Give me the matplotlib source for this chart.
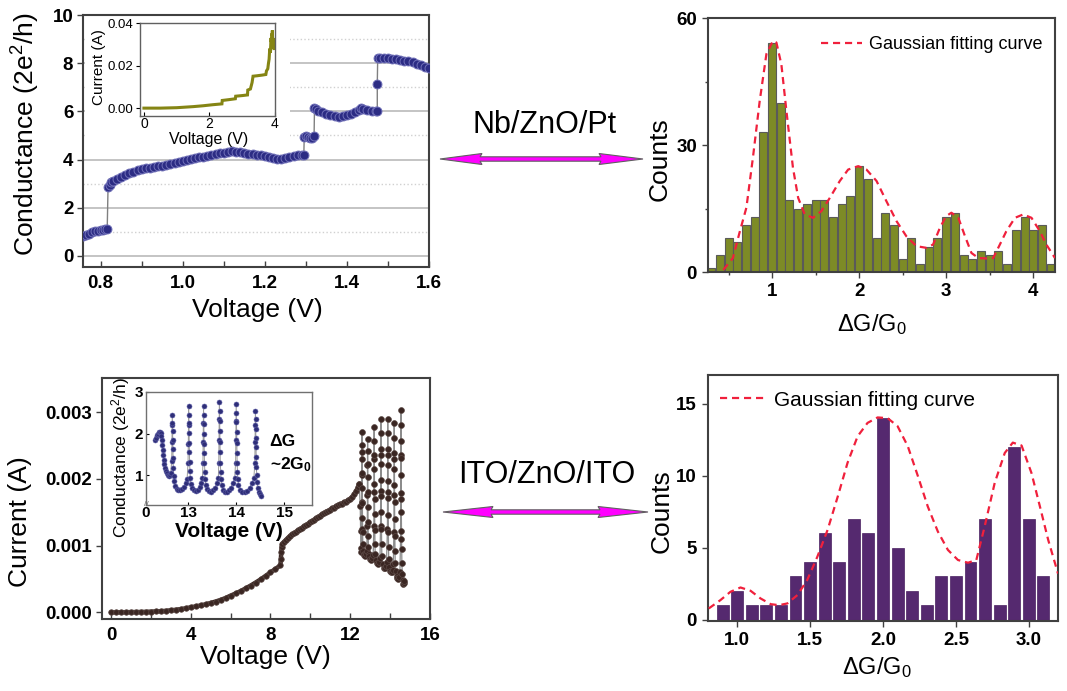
import matplotlib
matplotlib.use('Agg')
import matplotlib.pyplot as plt
from matplotlib.patches import Polygon, Rectangle
from matplotlib.ticker import FixedLocator

plt.rcParams['font.family'] = ['Liberation Sans', 'DejaVu Sans']
plt.rcParams['mathtext.fontset'] = 'custom'
plt.rcParams['mathtext.rm'] = 'Liberation Sans'
plt.rcParams['mathtext.it'] = 'Liberation Sans:italic'
plt.rcParams['mathtext.bf'] = 'Liberation Sans:bold'
plt.rcParams['mathtext.default'] = 'regular'

# ---------------- data ----------------
# top-left: conductance (2e^2/h) vs voltage (V), Nb/ZnO/Pt
tl_curve = [
    (0.758, 0.84), (0.765, 0.88), (0.772, 0.92), (0.780, 0.98), (0.787, 1.02), (0.794, 1.04),
    (0.800, 1.06), (0.806, 1.08), (0.811, 1.10), (0.816, 1.12),
    (0.818, 2.85), (0.822, 2.95), (0.826, 3.05), (0.830, 3.12), (0.840, 3.20), (0.850, 3.28),
    (0.860, 3.36), (0.870, 3.43), (0.880, 3.50), (0.890, 3.55), (0.900, 3.59), (0.910, 3.63),
    (0.920, 3.66), (0.930, 3.69), (0.940, 3.72), (0.950, 3.75), (0.960, 3.78), (0.970, 3.81),
    (0.980, 3.84), (0.990, 3.88), (1.000, 3.92), (1.010, 3.97), (1.020, 4.02), (1.030, 4.06),
    (1.040, 4.10), (1.050, 4.12), (1.060, 4.14), (1.070, 4.18), (1.080, 4.22), (1.090, 4.26),
    (1.100, 4.29), (1.110, 4.33), (1.120, 4.36), (1.130, 4.33), (1.140, 4.30), (1.150, 4.27),
    (1.160, 4.25), (1.170, 4.23), (1.180, 4.20), (1.190, 4.17), (1.200, 4.15), (1.210, 4.12),
    (1.220, 4.08), (1.230, 4.04), (1.240, 4.01), (1.250, 4.06), (1.260, 4.10), (1.270, 4.14),
    (1.280, 4.17), (1.290, 4.18), (1.295, 4.17),
    (1.296, 4.95), (1.300, 4.98), (1.305, 4.93), (1.310, 4.88), (1.315, 4.90), (1.320, 4.96),
    (1.321, 6.12), (1.325, 6.08), (1.330, 6.03), (1.340, 5.96), (1.350, 5.89), (1.360, 5.84),
    (1.370, 5.80), (1.380, 5.78), (1.390, 5.81), (1.400, 5.86), (1.410, 5.91), (1.420, 5.97),
    (1.430, 6.06), (1.435, 6.15), (1.440, 6.10), (1.450, 6.05), (1.460, 6.03), (1.470, 6.02),
    (1.474, 6.03), (1.474, 7.15),
    (1.475, 8.20), (1.480, 8.23), (1.490, 8.22), (1.500, 8.20), (1.510, 8.19), (1.520, 8.17),
    (1.530, 8.14), (1.540, 8.10), (1.550, 8.07), (1.560, 8.03), (1.570, 7.98), (1.580, 7.92),
    (1.590, 7.85), (1.600, 7.78),
]
# top-left inset: current (A) vs voltage (V)
tl_inset_curve = [
    (0.0, 0.0), (0.5, 0.0), (1.0, 0.0002), (1.2, 0.0004), (1.5, 0.0007), (1.8, 0.0011),
    (2.1, 0.0016), (2.38, 0.0020), (2.39, 0.0036), (2.6, 0.0040), (2.79, 0.0044), (2.80, 0.0056),
    (3.0, 0.0059), (3.16, 0.0062), (3.17, 0.0085), (3.25, 0.0090), (3.30, 0.0120), (3.33, 0.0150),
    (3.45, 0.0152), (3.60, 0.0155), (3.72, 0.0158), (3.74, 0.0175), (3.78, 0.0185), (3.80, 0.0210),
    (3.82, 0.0230), (3.84, 0.0280), (3.86, 0.0260), (3.87, 0.0300), (3.88, 0.0330), (3.89, 0.0310),
    (3.90, 0.0350), (3.91, 0.0340), (3.92, 0.0365), (3.93, 0.0300), (3.94, 0.0330), (3.95, 0.0280),
    (3.96, 0.0300), (3.97, 0.0280),
]
# top-right histogram: ΔG/G0 bins and counts
tr_bins = [0.3, 0.4, 0.5, 0.6, 0.7, 0.8, 0.9, 1.0, 1.1, 1.2, 1.3, 1.4, 1.5, 1.6, 1.7, 1.8, 1.9, 2.0,
           2.1, 2.2, 2.3, 2.4, 2.5, 2.6, 2.7, 2.8, 2.9, 3.0, 3.1, 3.2, 3.3, 3.4, 3.5, 3.6, 3.7, 3.8,
           3.9, 4.0, 4.1, 4.2]
tr_counts = [1, 4, 8, 7, 11, 13, 33, 54, 40, 17, 15, 16, 17, 17, 13, 16, 18, 25, 22, 8, 14, 11, 3,
             8, 2, 6, 8, 13, 14, 4, 3, 5, 4, 5, 2, 10, 13, 10, 11, 2]
tr_fit = [
    (0.44, 0.5), (0.55, 3.3), (0.63, 9.6), (0.705, 15.2), (0.78, 27.0), (0.858, 40.4),
    (0.935, 51.5), (1.01, 54.6), (1.05, 54.2), (1.107, 49.0), (1.165, 38.0), (1.24, 24.6),
    (1.30, 17.5), (1.375, 13.6), (1.47, 12.8), (1.567, 14.4), (1.663, 17.5), (1.778, 21.5),
    (1.874, 24.2), (1.99, 25.0), (2.084, 24.2), (2.20, 21.5), (2.314, 16.7), (2.43, 12.0),
    (2.544, 8.4), (2.659, 6.1), (2.774, 5.7), (2.85, 6.5), (2.927, 10.4), (3.00, 13.2),
    (3.06, 14.0), (3.14, 12.8), (3.21, 8.8), (3.29, 4.5), (3.37, 3.3), (3.46, 3.2),
    (3.54, 3.3), (3.617, 6.5), (3.69, 9.6), (3.79, 12.8), (3.885, 13.6), (3.98, 12.8),
    (4.077, 9.6), (4.15, 6.5), (4.25, 3.3),
]
# bottom-left: current (mA) vs voltage (V), ITO/ZnO/ITO -- smooth sweep part
bl_sweep = [
    (0.0, 0.000), (0.25, 0.000), (0.5, 0.001), (0.75, 0.002), (1.0, 0.003), (1.25, 0.004),
    (1.5, 0.005), (1.75, 0.007), (2.0, 0.010), (2.25, 0.013), (2.5, 0.017), (2.75, 0.022),
    (3.0, 0.030), (3.25, 0.038), (3.5, 0.048), (3.75, 0.060), (4.0, 0.075), (4.25, 0.088),
    (4.5, 0.103), (4.75, 0.120), (5.0, 0.140), (5.25, 0.162), (5.5, 0.186), (5.75, 0.215),
    (6.0, 0.250), (6.25, 0.282), (6.5, 0.318), (6.75, 0.358), (7.0, 0.400), (7.25, 0.445),
    (7.5, 0.492), (7.75, 0.545), (8.0, 0.598), (8.25, 0.650), (8.5, 0.705),
    (8.52, 0.80), (8.54, 0.90), (8.56, 0.98), (8.6, 1.03), (8.7, 1.06), (8.8, 1.09),
    (8.9, 1.12), (9.0, 1.15), (9.1, 1.17), (9.2, 1.19), (9.3, 1.21), (9.4, 1.23), (9.5, 1.25),
    (9.6, 1.27), (9.7, 1.29), (9.8, 1.31), (9.9, 1.33), (10.0, 1.35), (10.1, 1.37), (10.2, 1.39),
    (10.3, 1.41), (10.4, 1.43), (10.5, 1.45), (10.6, 1.47), (10.7, 1.49), (10.8, 1.51),
    (10.9, 1.52), (11.0, 1.54), (11.1, 1.56), (11.2, 1.57), (11.3, 1.59), (11.4, 1.61),
    (11.5, 1.62), (11.6, 1.63), (11.7, 1.65), (11.8, 1.66), (11.9, 1.68), (12.0, 1.70),
    (12.1, 1.73), (12.2, 1.77), (12.3, 1.82), (12.4, 1.88), (12.45, 1.92),
]
# bottom-left: oscillating (quantized switching) part
bl_osc = [
    (12.45, 1.92), (12.50, 1.60), (12.52, 1.22), (12.54, 0.97), (12.56, 0.90),
    (12.57, 1.25), (12.575, 1.65), (12.58, 2.05), (12.585, 2.40), (12.59, 2.70),
    (12.593, 2.50), (12.596, 2.30), (12.60, 2.08), (12.604, 1.86), (12.608, 1.64), (12.613, 1.42),
    (12.62, 1.20), (12.63, 1.02), (12.64, 0.92),
    (12.67, 0.88), (12.71, 0.86), (12.75, 0.85), (12.79, 0.87), (12.83, 0.92),
    (12.855, 1.30), (12.86, 1.75), (12.865, 2.20), (12.87, 2.60), (12.873, 2.42), (12.876, 2.22),
    (12.88, 2.02), (12.884, 1.80), (12.888, 1.58), (12.893, 1.36), (12.90, 1.14), (12.91, 0.98),
    (12.92, 0.88),
    (12.95, 0.84), (13.00, 0.80), (13.05, 0.79), (13.10, 0.81), (13.15, 0.86),
    (13.185, 1.30), (13.19, 1.80), (13.195, 2.30), (13.20, 2.77), (13.203, 2.57), (13.206, 2.36),
    (13.21, 2.14), (13.214, 1.92), (13.218, 1.70), (13.223, 1.47), (13.23, 1.24), (13.24, 1.02),
    (13.25, 0.88),
    (13.29, 0.78), (13.34, 0.74), (13.39, 0.73), (13.44, 0.75), (13.49, 0.81),
    (13.52, 1.30), (13.525, 1.82), (13.53, 2.36), (13.535, 2.90), (13.538, 2.68), (13.541, 2.45),
    (13.545, 2.22), (13.549, 1.98), (13.553, 1.74), (13.558, 1.50), (13.565, 1.25), (13.575, 1.02),
    (13.585, 0.85),
    (13.62, 0.72), (13.67, 0.67), (13.72, 0.66), (13.77, 0.69), (13.82, 0.76),
    (13.865, 1.25), (13.87, 1.80), (13.875, 2.35), (13.88, 2.90), (13.883, 2.68), (13.886, 2.45),
    (13.89, 2.21), (13.894, 1.96), (13.898, 1.71), (13.903, 1.46), (13.91, 1.21), (13.92, 0.98),
    (13.93, 0.80),
    (13.96, 0.68), (14.00, 0.62), (14.04, 0.60), (14.08, 0.60), (14.12, 0.64), (14.16, 0.72),
    (14.19, 1.20), (14.195, 1.75), (14.20, 2.30), (14.205, 2.83), (14.208, 2.61), (14.211, 2.38),
    (14.215, 2.14), (14.219, 1.90), (14.223, 1.65), (14.228, 1.40), (14.235, 1.15), (14.245, 0.92),
    (14.255, 0.74),
    (14.29, 0.62), (14.33, 0.55), (14.37, 0.51), (14.41, 0.50), (14.45, 0.53), (14.49, 0.60),
    (14.525, 1.10), (14.53, 1.70), (14.535, 2.35), (14.54, 3.03), (14.543, 2.80), (14.546, 2.56),
    (14.55, 2.31), (14.554, 2.05), (14.558, 1.78), (14.563, 1.50), (14.57, 1.22), (14.58, 0.95),
    (14.59, 0.74), (14.61, 0.58), (14.63, 0.48), (14.66, 0.42), (14.69, 0.44), (14.71, 0.47),
]
# bottom-left inset: conductance (2e^2/h) vs voltage (V)
bl_inset_curve = [
    (12.31, 1.84), (12.33, 1.90), (12.35, 1.96), (12.37, 2.00), (12.39, 2.03), (12.41, 2.04),
    (12.43, 2.02), (12.44, 1.95), (12.45, 1.85), (12.46, 1.72), (12.47, 1.60), (12.48, 1.48),
    (12.49, 1.37), (12.50, 1.27), (12.52, 1.18), (12.54, 1.10), (12.56, 1.04), (12.58, 1.00),
    (12.60, 0.98), (12.62, 1.00), (12.64, 1.05),
    (12.66, 1.35), (12.665, 1.80), (12.67, 2.20), (12.672, 2.45), (12.675, 2.25), (12.678, 2.05),
    (12.681, 1.85), (12.684, 1.62), (12.688, 1.40), (12.692, 1.18), (12.70, 0.98), (12.71, 0.85),
    (12.73, 0.74), (12.76, 0.67), (12.80, 0.64), (12.84, 0.64), (12.88, 0.67), (12.92, 0.72),
    (12.95, 0.80), (12.98, 0.90),
    (13.00, 1.30), (13.005, 1.75), (13.01, 2.20), (13.012, 2.66), (13.015, 2.45), (13.018, 2.25),
    (13.021, 2.02), (13.024, 1.78), (13.028, 1.55), (13.032, 1.32), (13.038, 1.10), (13.045, 0.92),
    (13.06, 0.78), (13.09, 0.68), (13.13, 0.63), (13.17, 0.62), (13.21, 0.65), (13.25, 0.72),
    (13.28, 0.82), (13.30, 0.92),
    (13.31, 1.30), (13.315, 1.80), (13.32, 2.25), (13.322, 2.66), (13.325, 2.45), (13.328, 2.22),
    (13.331, 1.98), (13.334, 1.75), (13.338, 1.52), (13.342, 1.30), (13.348, 1.08), (13.355, 0.90),
    (13.37, 0.76), (13.40, 0.66), (13.44, 0.61), (13.48, 0.60), (13.52, 0.63), (13.56, 0.70),
    (13.60, 0.80), (13.63, 0.92),
    (13.64, 1.30), (13.645, 1.85), (13.65, 2.35), (13.652, 2.77), (13.655, 2.55), (13.658, 2.30),
    (13.661, 2.05), (13.664, 1.80), (13.668, 1.55), (13.672, 1.30), (13.678, 1.08), (13.685, 0.90),
    (13.70, 0.75), (13.73, 0.65), (13.77, 0.60), (13.81, 0.60), (13.85, 0.63), (13.89, 0.70),
    (13.93, 0.80), (13.97, 0.92),
    (13.99, 1.30), (13.995, 1.85), (14.00, 2.30), (14.002, 2.71), (14.005, 2.50), (14.008, 2.27),
    (14.011, 2.03), (14.014, 1.78), (14.018, 1.53), (14.022, 1.30), (14.028, 1.08), (14.035, 0.90),
    (14.05, 0.75), (14.09, 0.65), (14.13, 0.60), (14.18, 0.59), (14.23, 0.62), (14.28, 0.70),
    (14.33, 0.80), (14.37, 0.92),
    (14.39, 1.30), (14.395, 1.80), (14.40, 2.20), (14.402, 2.55), (14.405, 2.35), (14.408, 2.12),
    (14.411, 1.90), (14.414, 1.67), (14.418, 1.44), (14.422, 1.20), (14.428, 1.00), (14.435, 0.84),
    (14.45, 0.70), (14.47, 0.60), (14.49, 0.54), (14.51, 0.50),
]
# bottom-right histogram
br_bins = [0.9, 1.0, 1.1, 1.2, 1.3, 1.4, 1.5, 1.6, 1.7, 1.8, 1.9, 2.0, 2.1, 2.2, 2.3, 2.4, 2.5, 2.6,
           2.7, 2.8, 2.9, 3.0, 3.1]
br_counts = [1, 2, 1, 1, 1, 3, 4, 6, 4, 7, 6, 14, 5, 2, 1, 3, 3, 4, 7, 1, 12, 7, 3]
br_fit = [
    (0.805, 0.77), (0.885, 1.35), (0.954, 1.93), (1.023, 2.23), (1.092, 2.0), (1.16, 1.47),
    (1.23, 1.07), (1.287, 1.0), (1.344, 1.12), (1.413, 1.7), (1.48, 2.74), (1.55, 4.37),
    (1.62, 6.23), (1.69, 8.56), (1.757, 10.9), (1.826, 12.74), (1.894, 13.67), (1.963, 14.05),
    (2.032, 14.0), (2.10, 13.44), (2.17, 12.05), (2.24, 9.95), (2.307, 7.86), (2.376, 6.12),
    (2.445, 4.84), (2.514, 4.14), (2.583, 3.95), (2.64, 4.14), (2.697, 6.47), (2.766, 9.5),
    (2.835, 11.58), (2.89, 12.3), (2.95, 12.1), (3.018, 10.19), (3.076, 7.86), (3.133, 5.53),
    (3.20, 3.2),
]
device_top = 'Nb/ZnO/Pt'
device_bottom = 'ITO/ZnO/ITO'

# ---------------- layout ----------------
W, H = 1067, 691
fig = plt.figure(figsize=(W / 100, H / 100), dpi=100)


def box(x0, y0, x1, y1):
    return [x0 / W, 1 - y1 / H, (x1 - x0) / W, (y1 - y0) / H]


SPINE = '#404040'
NAVY = '#2c2c84'
BROWN = '#3a2622'
OLIVE = '#7d8b26'
PURPLE = '#55296f'
RED = '#f0203c'


def style(ax, lw=1.5, color=SPINE):
    for s in ax.spines.values():
        s.set_linewidth(lw)
        s.set_color(color)


def bold_ticks(ax, size):
    for lab in ax.get_xticklabels() + ax.get_yticklabels():
        lab.set_fontweight('bold')
        lab.set_fontsize(size)


def unzip(pairs):
    return [p[0] for p in pairs], [p[1] for p in pairs]


# ---- top-left ----
ax1 = fig.add_axes(box(83, 15, 429, 267))
style(ax1)
v, g = unzip(tl_curve)
ax1.plot(v, g, color='#808080', lw=1.0, zorder=2)
ax1.plot(v, g, ls='none', marker='o', ms=6.4, mfc=NAVY, mec='#7070b8', mew=0.7, zorder=3)
ax1.set_xlim(0.757, 1.6)
ax1.set_ylim(-0.46, 10)
ax1.xaxis.set_major_locator(FixedLocator([0.8, 1.0, 1.2, 1.4, 1.6]))
ax1.xaxis.set_minor_locator(FixedLocator([0.9, 1.1, 1.3, 1.5]))
ax1.set_xticklabels(['0.8', '1.0', '1.2', '1.4', '1.6'])
ax1.yaxis.set_major_locator(FixedLocator([0, 2, 4, 6, 8, 10]))
ax1.yaxis.set_minor_locator(FixedLocator([1, 3, 5, 7, 9]))
ax1.grid(True, which='major', axis='y', color='#b4b4b4', lw=1.1)
ax1.grid(True, which='minor', axis='y', color='#d0d0d0', lw=1.0, ls=':')
ax1.tick_params(axis='x', which='both', direction='in', length=4, width=1, color=SPINE, pad=6)
ax1.tick_params(axis='y', which='major', direction='out', length=4, width=1, color=SPINE, pad=3)
ax1.tick_params(axis='y', which='minor', length=0)
bold_ticks(ax1, 13.5)
ax1.set_xlabel('Voltage (V)', fontsize=19)
ax1.set_ylabel('Conductance (2e$^2$/h)', fontsize=19)
ax1.xaxis.set_label_coords(0.503, -0.123)
ax1.yaxis.set_label_coords(-0.119, 0.528)
ax1.add_patch(Rectangle((85 / W, 1 - 141 / H), (290 - 85) / W, (141 - 17) / H,
                        transform=fig.transFigure, facecolor='white', edgecolor='none', zorder=1.7))

# top-left inset
ax1i = fig.add_axes(box(140, 23, 275, 116))
style(ax1i, lw=1.0, color='#606060')
iv, ii = unzip(tl_inset_curve)
ax1i.plot(iv, ii, color='#858514', lw=2.2, solid_joinstyle='miter')
ax1i.set_xlim(-0.12, 4.0)
ax1i.set_ylim(-0.0037, 0.04)
ax1i.set_xticks([0, 2, 4])
ax1i.set_yticks([0.0, 0.02, 0.04])
ax1i.set_yticklabels(['0.00', '0.02', '0.04'])
ax1i.tick_params(axis='x', direction='in', length=3, labelsize=10, pad=1)
ax1i.tick_params(axis='y', direction='out', length=3, labelsize=9.5, pad=2)
ax1i.set_xlabel('Voltage (V)', fontsize=11.5)
ax1i.set_ylabel('Current (A)', fontsize=11)
ax1i.xaxis.set_label_coords(0.511, -0.175)
ax1i.yaxis.set_label_coords(-0.252, 0.521)

# ---- top-right ----
ax2 = fig.add_axes(box(708, 18, 1055, 272))
style(ax2)
ax2.bar(tr_bins, tr_counts, width=0.092, color=OLIVE, edgecolor='#5a5a5a', lw=0.8, zorder=2)
fv, fc = unzip(tr_fit)
ax2.plot(fv, fc, color=RED, lw=1.6, dashes=(3.2, 2.2), zorder=3, label='Gaussian fitting curve')
ax2.set_xlim(0.264, 4.25)
ax2.set_ylim(0, 60)
ax2.set_xticks([1, 2, 3, 4])
ax2.xaxis.set_minor_locator(FixedLocator([0.5, 1.5, 2.5, 3.5]))
ax2.set_yticks([0, 30, 60])
ax2.yaxis.set_minor_locator(FixedLocator([15, 45]))
ax2.tick_params(which='major', direction='out', length=4, width=1, color=SPINE, pad=4)
ax2.tick_params(which='minor', direction='out', length=2.5, width=1, color=SPINE)
bold_ticks(ax2, 13.5)
ax2.set_xlabel('ΔG/G$_0$', fontsize=17)
ax2.set_ylabel('Counts', fontsize=19)
ax2.xaxis.set_label_coords(0.472, -0.156)
ax2.yaxis.set_label_coords(-0.105, 0.445)
ax2.legend(loc='center left', bbox_to_anchor=(0.325, 0.894), frameon=False, fontsize=13,
           handlelength=2.3, handletextpad=0.35, borderpad=0, borderaxespad=0)

# ---- bottom-left ----
ax3 = fig.add_axes(box(102, 378, 430, 619))
style(ax3)
sv, si = unzip(bl_sweep)
ov, oi = unzip(bl_osc)
ax3.plot(sv, si, color=BROWN, lw=3.2, zorder=2, solid_capstyle='round')
ax3.plot(ov, oi, color='#8c8c8c', lw=0.9, zorder=2)
ax3.plot(sv, si, ls='none', marker='o', ms=4.0, mfc=BROWN, mec='#5a4844', mew=0.5, zorder=3)
ax3.plot(ov, oi, ls='none', marker='o', ms=4.2, mfc=BROWN, mec='#5a4844', mew=0.5, zorder=3)
ax3.set_xlim(-0.45, 16)
ax3.set_ylim(-0.1, 3.51)
ax3.set_xticks([0, 4, 8, 12, 16])
ax3.xaxis.set_minor_locator(FixedLocator([2, 6, 10, 14]))
ax3.set_yticks([0, 1, 2, 3])
ax3.set_yticklabels(['0.000', '0.001', '0.002', '0.003'])
ax3.tick_params(axis='x', which='both', direction='in', length=4, width=1, color=SPINE, pad=6)
ax3.tick_params(axis='y', direction='out', length=4, width=1, color=SPINE, pad=3)
bold_ticks(ax3, 13.5)
ax3.set_xlabel('Voltage (V)', fontsize=19)
ax3.set_ylabel('Current (A)', fontsize=19)
ax3.xaxis.set_label_coords(0.497, -0.108)
ax3.yaxis.set_label_coords(-0.214, 0.404)

# bottom-left inset
ax3i = fig.add_axes(box(146, 392, 312, 505))
style(ax3i, lw=1.0, color='#707070')
gv, gg = unzip(bl_inset_curve)
ax3i.plot(gv, gg, color='#9a9a9a', lw=0.7, zorder=2)
ax3i.plot(gv, gg, ls='none', marker='o', ms=3.6, mfc='#2e2e78', mec='#6060a8', mew=0.4, zorder=3)
ax3i.set_xlim(12.125, 15.58)
ax3i.set_ylim(0.28, 3.0)
ax3i.set_xticks([12.125, 13, 14, 15])
ax3i.set_xticklabels(['0', '13', '14', '15'])
ax3i.set_yticks([1, 2, 3])
ax3i.tick_params(axis='x', direction='in', length=2.5, pad=1)
ax3i.tick_params(axis='y', direction='in', length=2.5, pad=2)
bold_ticks(ax3i, 11)
ax3i.set_xlabel('Voltage (V)', fontsize=15, fontweight='bold')
ax3i.set_ylabel('Conductance (2e$^2$/h)', fontsize=12.5)
ax3i.xaxis.set_label_coords(0.5, -0.15)
ax3i.yaxis.set_label_coords(-0.086, 0.42)
ax3i.text(0.0, 0.0, '//', transform=ax3i.transAxes, fontsize=6, color='#707070',
          ha='center', va='center')
ax3i.text(0.745, 0.56, 'ΔG', transform=ax3i.transAxes, fontsize=12.5, fontweight='bold',
          ha='left', va='center')
ax3i.text(0.745, 0.36, '~2G$_0$', transform=ax3i.transAxes, fontsize=12.5, fontweight='bold',
          ha='left', va='center')

# ---- bottom-right ----
ax4 = fig.add_axes(box(708, 375, 1058, 621))
style(ax4)
ax4.bar(br_bins, br_counts, width=0.082, color=PURPLE, edgecolor='#4a2060', lw=0.5, zorder=2)
rv, rc = unzip(br_fit)
ax4.plot(rv, rc, color=RED, lw=1.6, dashes=(3.2, 2.2), zorder=3, label='Gaussian fitting curve')
ax4.set_xlim(0.8, 3.2)
ax4.set_ylim(-0.1, 17)
ax4.set_xticks([1.0, 1.5, 2.0, 2.5, 3.0])
ax4.set_xticklabels(['1.0', '1.5', '2.0', '2.5', '3.0'])
ax4.set_yticks([0, 5, 10, 15])
ax4.tick_params(direction='out', length=4, width=1, color=SPINE, pad=4)
bold_ticks(ax4, 13.5)
ax4.set_xlabel('ΔG/G$_0$', fontsize=17)
ax4.set_ylabel('Counts', fontsize=19)
ax4.xaxis.set_label_coords(0.482, -0.138)
ax4.yaxis.set_label_coords(-0.099, 0.448)
ax4.legend(loc='center left', bbox_to_anchor=(0.034, 0.898), frameon=False, fontsize=15,
           handlelength=2.2, handletextpad=0.4, borderpad=0, borderaxespad=0)


# ---- arrows and device labels ----
def arrow(pts):
    poly = Polygon([(x / W, 1 - y / H) for x, y in pts], closed=True, transform=fig.transFigure,
                   facecolor='#ff00ff', edgecolor='#606060', lw=0.8)
    fig.add_artist(poly)


arrow([(440, 159), (482, 153.5), (480, 156.8), (601, 156.8), (599, 153.5), (643, 159),
       (599, 164.5), (601, 161.2), (480, 161.2), (482, 164.5)])
arrow([(443, 512), (493, 506.5), (491, 509.8), (600, 509.8), (598, 506.5), (648, 512),
       (598, 517.5), (600, 514.2), (491, 514.2), (493, 517.5)])
fig.text(545 / W, 1 - 125 / H, device_top, ha='center', va='center', fontsize=22)
fig.text(547 / W, 1 - 475 / H, device_bottom, ha='center', va='center', fontsize=22)

fig.savefig('out.png', dpi=100)
